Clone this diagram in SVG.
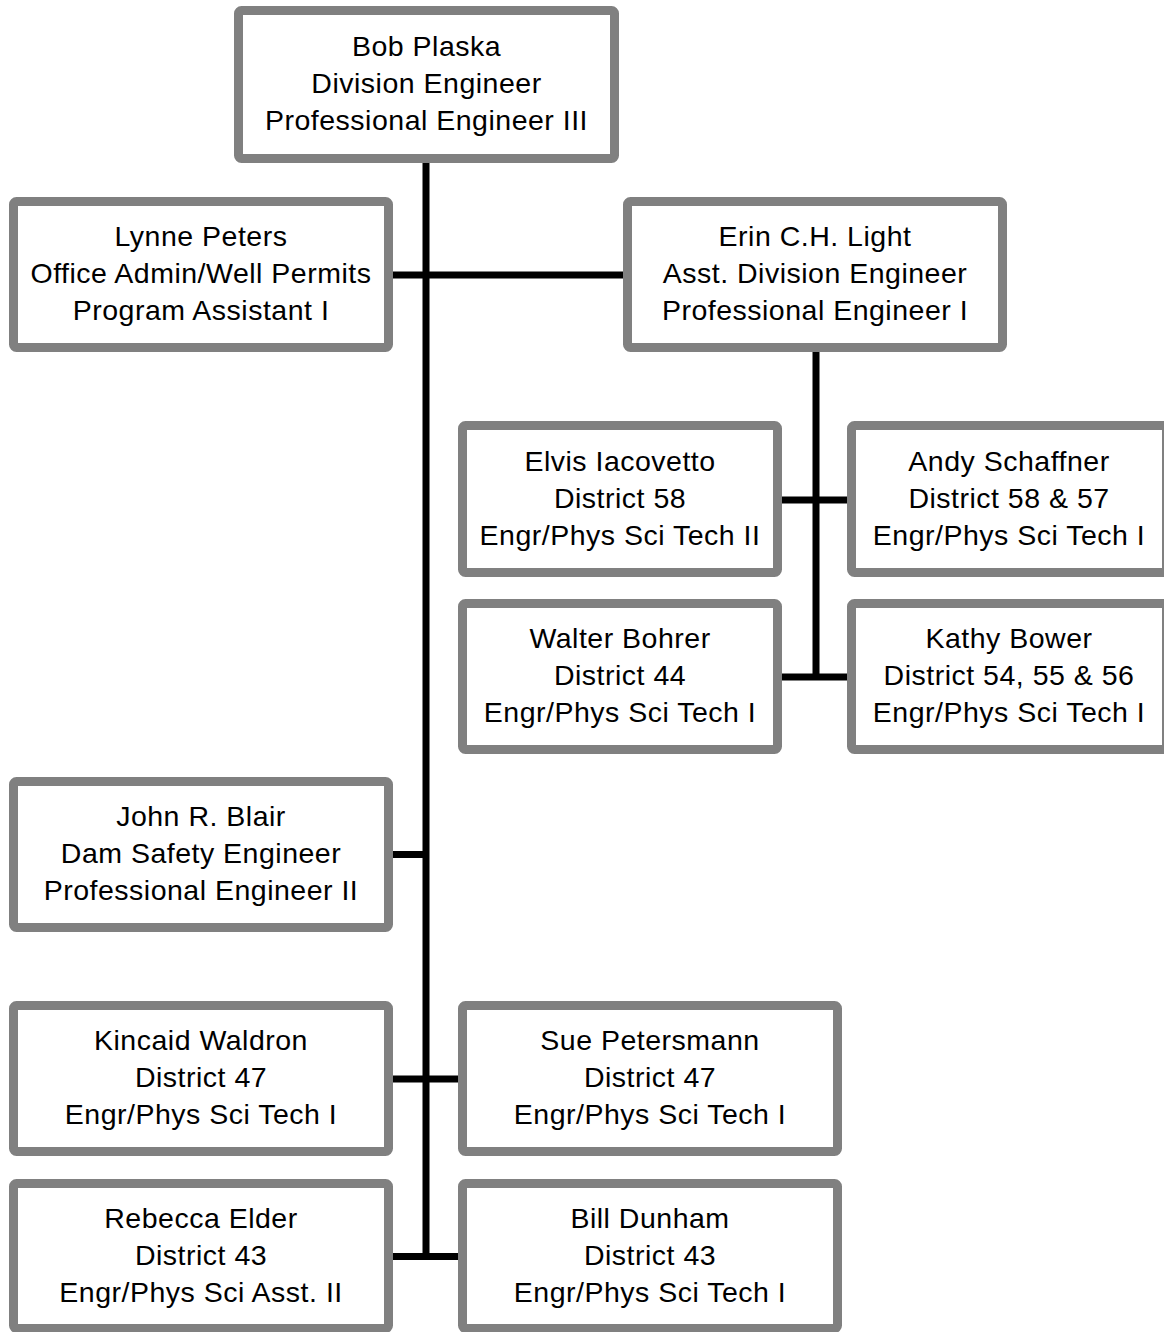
<svg xmlns="http://www.w3.org/2000/svg" width="1164" height="1332" viewBox="0 0 1164 1332">
<style>
.box{fill:#fff;stroke:#808080;stroke-width:9}
.t{font-family:"Liberation Sans",Arial,sans-serif;font-size:28.5px;letter-spacing:0.5px;fill:#000;text-anchor:middle}
.c{stroke:#000;stroke-width:7;fill:none}
</style>
<rect width="1164" height="1332" fill="#fff"/>
<g id="connectors">
<line class="c" x1="426" y1="163" x2="426" y2="1260"/>
<line class="c" x1="393" y1="275" x2="623" y2="275"/>
<line class="c" x1="393" y1="854.5" x2="426" y2="854.5"/>
<line class="c" x1="393" y1="1079" x2="458" y2="1079"/>
<line class="c" x1="393" y1="1256.5" x2="458" y2="1256.5"/>
<line class="c" x1="816" y1="352" x2="816" y2="680"/>
<line class="c" x1="782" y1="500" x2="847" y2="500"/>
<line class="c" x1="782" y1="677" x2="847" y2="677"/>
</g>
<g id="bob">
<rect class="box" x="238.5" y="10.5" width="376" height="148" rx="3"/>
<text class="t" x="426.5" y="56">Bob Plaska</text>
<text class="t" x="426.5" y="93">Division Engineer</text>
<text class="t" x="426.5" y="130">Professional Engineer III</text>
</g>
<g id="lynne">
<rect class="box" x="13.5" y="201.5" width="375" height="146" rx="3"/>
<text class="t" x="201" y="246">Lynne Peters</text>
<text class="t" x="201" y="283">Office Admin/Well Permits</text>
<text class="t" x="201" y="320">Program Assistant I</text>
</g>
<g id="erin">
<rect class="box" x="627.5" y="201.5" width="375" height="146" rx="3"/>
<text class="t" x="815" y="246">Erin C.H. Light</text>
<text class="t" x="815" y="283">Asst. Division Engineer</text>
<text class="t" x="815" y="320">Professional Engineer I</text>
</g>
<g id="elvis">
<rect class="box" x="462.5" y="425.5" width="315" height="147" rx="3"/>
<text class="t" x="620" y="471">Elvis Iacovetto</text>
<text class="t" x="620" y="508">District 58</text>
<text class="t" x="620" y="545">Engr/Phys Sci Tech II</text>
</g>
<g id="andy">
<rect class="box" x="851.5" y="425.5" width="315" height="147" rx="3"/>
<text class="t" x="1009" y="471">Andy Schaffner</text>
<text class="t" x="1009" y="508">District 58 &amp; 57</text>
<text class="t" x="1009" y="545">Engr/Phys Sci Tech I</text>
</g>
<g id="walter">
<rect class="box" x="462.5" y="603.5" width="315" height="146" rx="3"/>
<text class="t" x="620" y="648">Walter Bohrer</text>
<text class="t" x="620" y="685">District 44</text>
<text class="t" x="620" y="722">Engr/Phys Sci Tech I</text>
</g>
<g id="kathy">
<rect class="box" x="851.5" y="603.5" width="315" height="146" rx="3"/>
<text class="t" x="1009" y="648">Kathy Bower</text>
<text class="t" x="1009" y="685">District 54, 55 &amp; 56</text>
<text class="t" x="1009" y="722">Engr/Phys Sci Tech I</text>
</g>
<g id="john">
<rect class="box" x="13.5" y="781.5" width="375" height="146" rx="3"/>
<text class="t" x="201" y="826">John R. Blair</text>
<text class="t" x="201" y="863">Dam Safety Engineer</text>
<text class="t" x="201" y="900">Professional Engineer II</text>
</g>
<g id="kincaid">
<rect class="box" x="13.5" y="1005.5" width="375" height="146" rx="3"/>
<text class="t" x="201" y="1050">Kincaid Waldron</text>
<text class="t" x="201" y="1087">District 47</text>
<text class="t" x="201" y="1124">Engr/Phys Sci Tech I</text>
</g>
<g id="sue">
<rect class="box" x="462.5" y="1005.5" width="375" height="146" rx="3"/>
<text class="t" x="650" y="1050">Sue Petersmann</text>
<text class="t" x="650" y="1087">District 47</text>
<text class="t" x="650" y="1124">Engr/Phys Sci Tech I</text>
</g>
<g id="rebecca">
<rect class="box" x="13.5" y="1183.5" width="375" height="145" rx="3"/>
<text class="t" x="201" y="1227.5">Rebecca Elder</text>
<text class="t" x="201" y="1264.5">District 43</text>
<text class="t" x="201" y="1301.5">Engr/Phys Sci Asst. II</text>
</g>
<g id="bill">
<rect class="box" x="462.5" y="1183.5" width="375" height="145" rx="3"/>
<text class="t" x="650" y="1227.5">Bill Dunham</text>
<text class="t" x="650" y="1264.5">District 43</text>
<text class="t" x="650" y="1301.5">Engr/Phys Sci Tech I</text>
</g>
</svg>
